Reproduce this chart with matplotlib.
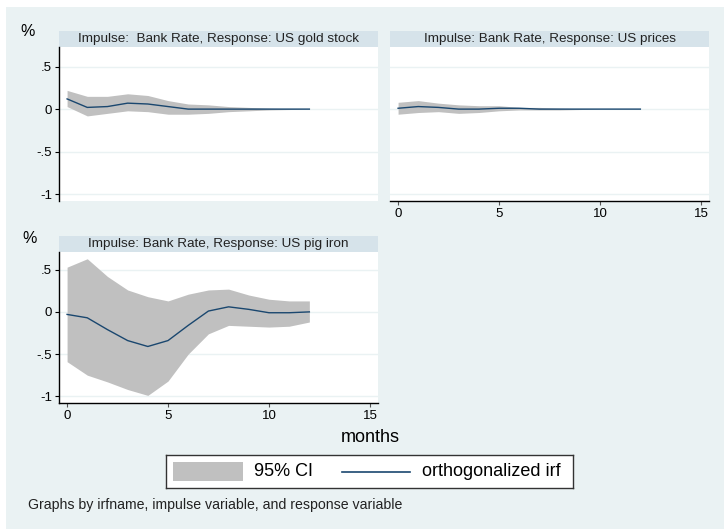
import matplotlib.pyplot as plt
from matplotlib.patches import Rectangle
from matplotlib.lines import Line2D

plt.rcParams['font.family'] = ['Liberation Sans', 'DejaVu Sans']

W, H = 724, 529
BG = '#eaf2f3'
STRIP = '#d6e3ea'
BAND = '#c0c0c0'
LINE = '#1a476f'

months = list(range(13))

gold_irf = [0.12, 0.02, 0.03, 0.07, 0.06, 0.03, 0.0, 0.0, 0.0, 0.0, 0.0, 0.0, 0.0]
gold_lo = [0.03, -0.08, -0.05, -0.02, -0.03, -0.06, -0.06, -0.05, -0.03, -0.02, -0.01, -0.005, 0.0]
gold_hi = [0.22, 0.15, 0.15, 0.18, 0.16, 0.10, 0.06, 0.05, 0.03, 0.02, 0.01, 0.005, 0.0]

prices_irf = [0.01, 0.03, 0.02, 0.0, 0.0, 0.01, 0.01, 0.0, 0.0, 0.0, 0.0, 0.0, 0.0]
prices_lo = [-0.06, -0.04, -0.03, -0.05, -0.04, -0.02, -0.01, -0.01, -0.01, -0.005, 0.0, 0.0, 0.0]
prices_hi = [0.08, 0.10, 0.07, 0.05, 0.04, 0.04, 0.02, 0.02, 0.01, 0.005, 0.0, 0.0, 0.0]

pig_irf = [-0.03, -0.07, -0.21, -0.34, -0.41, -0.34, -0.16, 0.01, 0.06, 0.03, -0.01, -0.01, 0.0]
pig_lo = [-0.59, -0.75, -0.83, -0.92, -0.99, -0.82, -0.50, -0.26, -0.16, -0.17, -0.18, -0.17, -0.12]
pig_hi = [0.53, 0.63, 0.42, 0.26, 0.18, 0.13, 0.21, 0.26, 0.27, 0.20, 0.15, 0.13, 0.13]

yticks = [-1, -0.5, 0, 0.5]
ytick_labels = ['-1', '-.5', '0', '.5']
xticks = [0, 5, 10, 15]

fig = plt.figure(figsize=(W / 100, H / 100), dpi=100)
fig.patch.set_facecolor('white')


def box(x0, y0, x1, y1):
    # pixel box (top-left origin) -> figure fraction rect
    return [x0 / W, 1 - y1 / H, (x1 - x0) / W, (y1 - y0) / H]


# graph region background
fig.add_artist(Rectangle((6 / W, 0), 1 - 6 / W, 1 - 7 / H, transform=fig.transFigure,
                         facecolor=BG, edgecolor='none', zorder=0))


def panel(x0, x1, ytop, ybot, title, irf, lo, hi, yaxis, xaxis, ylim):
    strip = fig.add_axes(box(x0, ytop - 16, x1, ytop))
    strip.set_facecolor(STRIP)
    strip.set_xticks([])
    strip.set_yticks([])
    for s in strip.spines.values():
        s.set_visible(False)
    strip.text(0.5, 0.5, title, ha='center', va='center', fontsize=9.7, color='#222222')

    ax = fig.add_axes(box(x0, ytop, x1, ybot))
    ax.set_facecolor('white')
    ax.fill_between(months, lo, hi, color=BAND, linewidth=0, zorder=2)
    ax.plot(months, irf, color=LINE, linewidth=1.0, zorder=3)
    ax.set_xlim(-0.4, 15.4)
    ax.set_ylim(*ylim)
    ax.set_yticks(yticks)
    for yv in yticks:
        ax.axhline(yv, color=BG, linewidth=1.0, zorder=1)
    for s in ax.spines.values():
        s.set_visible(False)
    if yaxis:
        ax.spines['left'].set_visible(True)
        ax.spines['left'].set_linewidth(1.0)
        ax.set_yticklabels(ytick_labels, fontsize=9.5)
        ax.tick_params(axis='y', length=3, width=0.8, pad=2)
    else:
        ax.tick_params(axis='y', left=False, labelleft=False)
    if xaxis:
        ax.spines['bottom'].set_visible(True)
        ax.spines['bottom'].set_linewidth(1.0)
        ax.set_xticks(xticks)
        ax.set_xticklabels([str(v) for v in xticks], fontsize=9.5)
        ax.tick_params(axis='x', length=3, width=0.8, pad=2, color='#555555')
    else:
        ax.tick_params(axis='x', bottom=False, labelbottom=False)
    return ax


panel(59, 378, 47, 201, 'Impulse:  Bank Rate, Response: US gold stock',
      gold_irf, gold_lo, gold_hi, True, False, (-1.08, 0.73))
panel(390, 709, 47, 201, 'Impulse: Bank Rate, Response: US prices',
      prices_irf, prices_lo, prices_hi, False, True, (-1.08, 0.73))
panel(59, 378, 252, 403, 'Impulse: Bank Rate, Response: US pig iron',
      pig_irf, pig_lo, pig_hi, True, True, (-1.08, 0.71))

fig.text(28 / W, 1 - 31 / H, '%', fontsize=11.5, ha='center', va='center')
fig.text(30 / W, 1 - 238 / H, '%', fontsize=11.5, ha='center', va='center')
fig.text(370 / W, 1 - 438 / H, 'months', fontsize=13, ha='center', va='center')

# legend
leg = fig.add_axes(box(166, 455, 573, 488))
leg.set_xlim(166, 573)
leg.set_ylim(488, 455)
leg.set_xticks([])
leg.set_yticks([])
leg.set_facecolor('white')
for s in leg.spines.values():
    s.set_linewidth(1.0)
    s.set_color('#333333')
leg.add_patch(Rectangle((173, 462), 70, 19, facecolor=BAND, edgecolor='none'))
leg.text(254, 471.5, '95% CI', fontsize=13, va='center')
leg.add_line(Line2D([342, 410], [471.5, 471.5], color=LINE, linewidth=1.2))
leg.text(422, 471.5, 'orthogonalized irf', fontsize=13, va='center')

fig.text(28 / W, 1 - 505 / H, 'Graphs by irfname, impulse variable, and response variable',
         fontsize=10.2, va='center', color='#222222')

fig.savefig('out.png', dpi=100, facecolor=fig.get_facecolor())
